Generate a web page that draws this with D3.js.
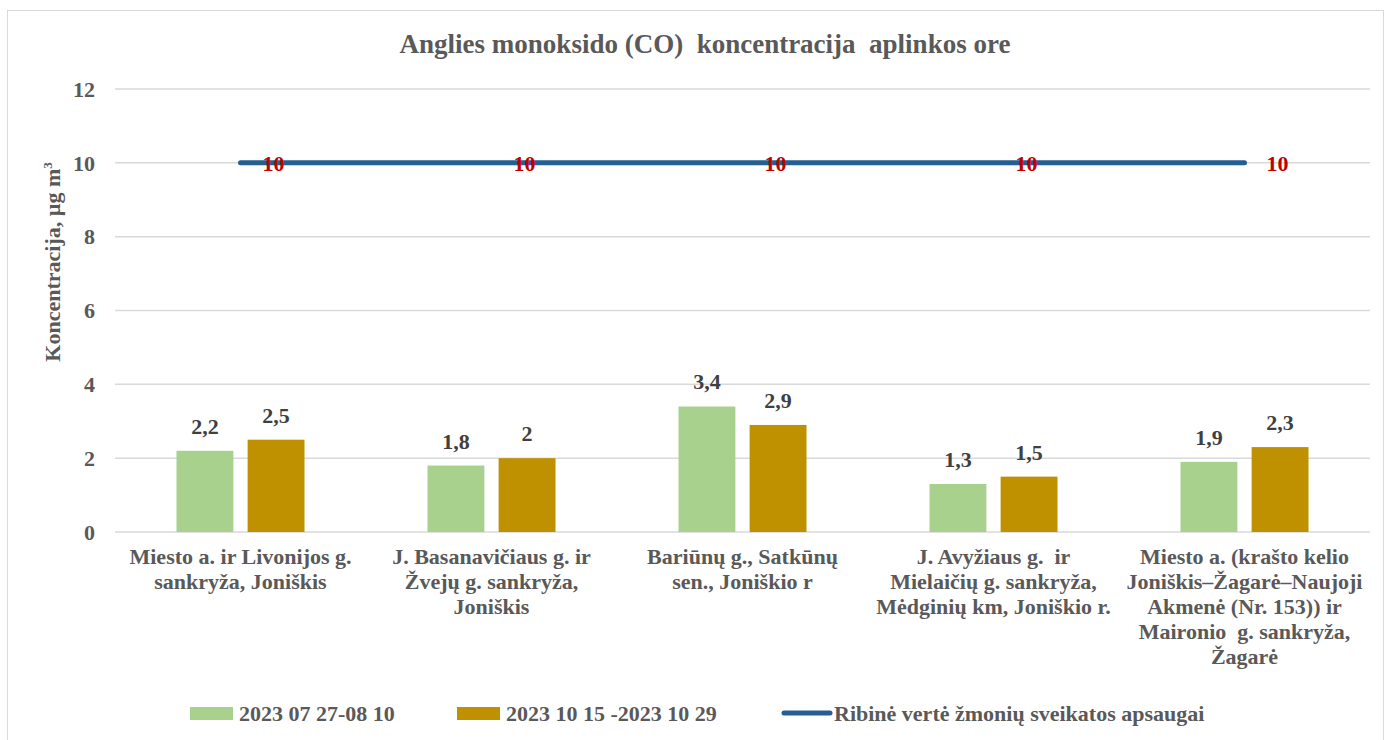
<!DOCTYPE html>
<html>
<head>
<meta charset="utf-8">
<script src="https://cdn.jsdelivr.net/npm/d3@7"></script>
<style>
  body { margin: 0; background: #fff; }
  text { font-family: "Liberation Serif", "Times New Roman", serif; font-weight: bold; fill: #595959; }
</style>
</head>
<body>
<div id="chart"></div>
<script>
var categories = [
	["Miesto a. ir Livonijos g.", "sankryža, Joniškis"],
	["J. Basanavičiaus g. ir", "Žvejų g. sankryža,", "Joniškis"],
	["Bariūnų g., Satkūnų", "sen., Joniškio r"],
	["J. Avyžiaus g.  ir", "Mielaičių g. sankryža,", "Mėdginių km, Joniškio r."],
	["Miesto a. (krašto kelio", "Joniškis–Žagarė–Naujoji", "Akmenė (Nr. 153)) ir", "Maironio  g. sankryža,", "Žagarė"]
];
var seriesNames = ["2023 07 27-08 10", "2023 10 15 -2023 10 29", "Ribinė vertė žmonių sveikatos apsaugai"];
var summerValues = [2.2, 1.8, 3.4, 1.3, 1.9];
var autumnValues = [2.5, 2, 2.9, 1.5, 2.3];
var limitValues = [10, 10, 10, 10, 10];
var yTicks = [0, 2, 4, 6, 8, 10, 12];

function drawChart() {
	var width = 1388, height = 740;
	var plotLeft = 115, plotRight = 1370, plotTop = 89, plotBottom = 532;
	var colors = ["#a9d18e", "#bf9000", "#255e91"];
	var fs = 22;

	var svg = d3.select("#chart").append("svg")
			.attr("width", width)
			.attr("height", height);

	// chart frame
	svg.append("rect")
			.attr("x", 7.5).attr("y", 10.5)
			.attr("width", 1376).attr("height", 740)
			.attr("fill", "none")
			.attr("stroke", "#d9d9d9");

	var idx = d3.range(categories.length);

	var x0 = d3.scaleBand()
			.domain(idx)
			.range([plotLeft, plotRight])
			.paddingInner(0.49)
			.paddingOuter(0.245);

	var x1 = d3.scaleBand()
			.domain([0, 1])
			.range([0, x0.bandwidth()])
			.paddingInner(0.2);

	var y = d3.scaleLinear()
			.domain([0, 12])
			.range([plotBottom, plotTop]);

	// gridlines
	svg.append("g").selectAll("line")
			.data(yTicks)
		.enter().append("line")
			.attr("x1", plotLeft).attr("x2", plotRight)
			.attr("y1", function(d) { return y(d); })
			.attr("y2", function(d) { return y(d); })
			.attr("stroke", "#d9d9d9")
			.attr("stroke-width", 1.5);

	var yAxis = d3.axisLeft(y).tickValues(yTicks).tickSize(0).tickPadding(0);
	var yg = svg.append("g")
			.attr("transform", "translate(" + (plotLeft - 20) + ",0)")
			.call(yAxis);
	yg.select(".domain").remove();
	yg.selectAll("text")
			.attr("font-size", fs)
			.attr("font-family", null)
			.attr("dy", "0.33em")
			.attr("fill", "#595959");

	// y title
	svg.append("text")
			.attr("transform", "translate(60,262) rotate(-90)")
			.attr("text-anchor", "middle")
			.attr("font-size", 22)
			.html("Koncentracija, µg m<tspan dy='-8' font-size='13'>3</tspan>");

	// title
	svg.append("text")
			.attr("x", 705)
			.attr("y", 53)
			.attr("text-anchor", "middle")
			.attr("font-size", 27)
			.attr("xml:space", "preserve")
			.text("Anglies monoksido (CO)  koncentracija  aplinkos ore");

	var groups = [summerValues, autumnValues];

	groups.forEach(function(vals, s) {
		var g = svg.append("g");
		g.selectAll("rect")
				.data(vals)
			.enter().append("rect")
				.attr("x", function(d, i) { return x0(i) + x1(s); })
				.attr("y", function(d) { return y(d); })
				.attr("width", x1.bandwidth())
				.attr("height", function(d) { return y(0) - y(d); })
				.attr("fill", colors[s]);
		g.selectAll("text")
				.data(vals)
			.enter().append("text")
				.attr("x", function(d, i) { return x0(i) + x1(s) + x1.bandwidth() / 2; })
				.attr("y", function(d) { return y(d) - 17; })
				.attr("text-anchor", "middle")
				.attr("font-size", fs)
				.style("fill", "#404040")
				.text(function(d) { return String(d).replace(".", ","); });
	});

	// limit line
	var line = d3.line()
			.x(function(d, i) { return x0(i) + x0.bandwidth() / 2; })
			.y(function(d) { return y(d); });

	svg.append("path")
			.datum(limitValues)
			.attr("d", line)
			.attr("fill", "none")
			.attr("stroke", colors[2])
			.attr("stroke-width", 5)
			.attr("stroke-linecap", "round");

	svg.append("g").selectAll("text")
			.data(limitValues)
		.enter().append("text")
			.attr("x", function(d, i) { return x0(i) + x0.bandwidth() / 2 + 33; })
			.attr("y", function(d) { return y(d); })
			.attr("dy", "0.35em")
			.attr("text-anchor", "middle")
			.attr("font-size", fs)
			.style("fill", "#c00000")
			.text(function(d) { return d; });

	// x labels
	svg.append("g").selectAll("text")
			.data(categories)
		.enter().append("text")
			.attr("text-anchor", "middle")
			.attr("font-size", fs)
			.attr("xml:space", "preserve")
			.each(function(lines, i) {
				var t = d3.select(this);
				lines.forEach(function(l, k) {
					t.append("tspan")
							.attr("x", x0(i) + x0.bandwidth() / 2)
							.attr("y", 564 + k * 25)
							.text(l);
				});
			});

	// legend
	var legend = [
		{x: 190, text: seriesNames[0], type: "rect", color: colors[0]},
		{x: 457, text: seriesNames[1], type: "rect", color: colors[1]},
		{x: 782, text: seriesNames[2], type: "line", color: colors[2]}
	];
	var lg = svg.append("g").selectAll("g")
			.data(legend)
		.enter().append("g")
			.attr("transform", function(d) { return "translate(" + d.x + ",713)"; });
	lg.filter(function(d) { return d.type === "rect"; }).append("rect")
			.attr("x", 0).attr("y", -6)
			.attr("width", 43).attr("height", 13)
			.attr("fill", function(d) { return d.color; });
	lg.filter(function(d) { return d.type === "line"; }).append("line")
			.attr("x1", 2).attr("x2", 48)
			.attr("stroke", function(d) { return d.color; })
			.attr("stroke-width", 5)
			.attr("stroke-linecap", "round");
	lg.append("text")
			.attr("x", function(d) { return d.type === "rect" ? 49 : 52; })
			.attr("dy", "0.35em")
			.attr("font-size", fs)
			.text(function(d) { return d.text; });
}

drawChart();
</script>
</body>
</html>
